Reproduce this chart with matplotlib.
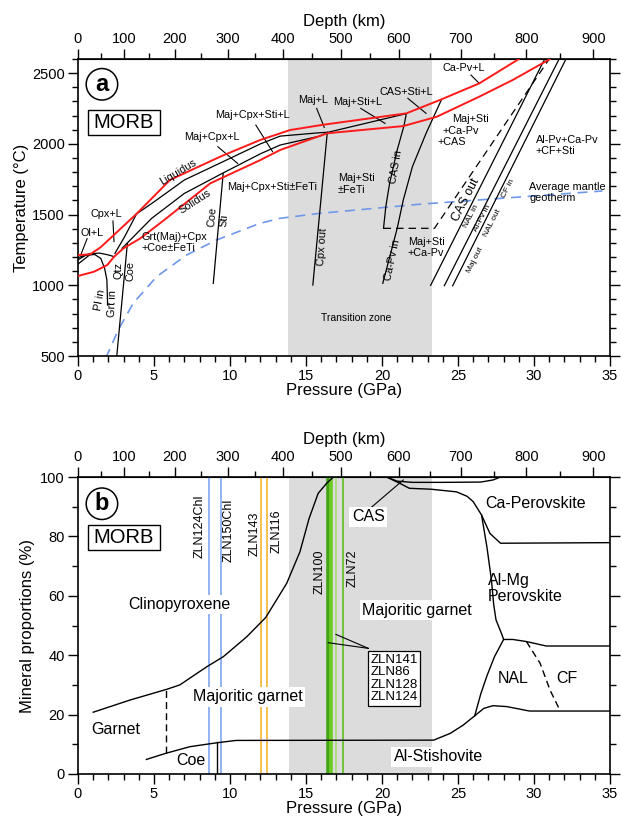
import numpy as np
import matplotlib
matplotlib.use('Agg')
import matplotlib.pyplot as plt
from matplotlib.patches import Rectangle

plt.rcParams['font.family'] = ['Liberation Sans', 'DejaVu Sans']

# escala de profundidad (km -> GPa)
depth_km = [0, 100, 200, 300, 400, 500, 600, 700, 800, 900, 1000]
depth_gpa = [0, 3.02, 6.37, 9.85, 13.5, 17.3, 21.1, 25.2, 29.5, 33.9, 38.3]

tz = (13.8, 23.3)

# ---------------- panel a: diagrama de fases ----------------
liq_p = [0, 0.8, 1.5, 2.5, 3.85, 6.05, 9.34, 11.97, 13.95, 16.1, 21.6, 23.8, 26.4, 29.0]
liq_t = [1214, 1219, 1270, 1370, 1505, 1745, 1909, 2027, 2098, 2135, 2216, 2310, 2428, 2600]
sol_p = [0, 1.05, 1.93, 2.37, 3.0, 4.1, 5.65, 8.7, 12.0, 13.3, 16.4, 21.4, 23.6, 26.4, 28.6, 31.05]
sol_t = [1066, 1096, 1144, 1202, 1262, 1332, 1460, 1721, 1886, 1957, 2075, 2126, 2192, 2334, 2452, 2600]

geo_p = [1.82, 2.65, 3.63, 5.17, 7.14, 9.1, 11.97, 13.3, 15.9, 22.45, 34.5]
geo_t = [484, 684, 873, 1061, 1214, 1320, 1438, 1474, 1509, 1573, 1667]

solid_lines = [
    ([3.85, 5, 7, 9.3, 12, 13.3, 15.9, 16.4], [1505, 1590, 1745, 1862, 2000, 2055, 2079, 2082]),
    ([2.9, 4.85, 7, 9.5, 12, 13.3, 15.9, 16.4], [1262, 1474, 1650, 1792, 1930, 1992, 2055, 2080]),
    ([16.4, 21.6, 21.45], [2081, 2214, 2130]),
    ([21.45, 21.0, 20.5, 20.25, 20.1], [2130, 1957, 1721, 1556, 1403]),
    ([23.9, 22.9, 22.0, 21.4, 21.0, 20.05], [2310, 2075, 1839, 1603, 1403, 1014]),
    ([23.2, 30.7], [1000, 2600]),
    ([24.1, 31.65], [997, 2600]),
    ([24.65, 32.1], [997, 2600]),
    ([16.4, 15.45], [2080, 1002]),
    ([9.55, 8.9], [1790, 1014]),
    ([3.25, 2.55], [1297, 500]),
    ([2.43, 3.1, 3.85], [1226, 1350, 1505]),
    ([0, 0.5, 1.1, 1.5, 1.75, 1.9, 1.95], [1180, 1212, 1218, 1190, 1120, 1040, 860]),
    ([0, 0.8], [1150, 1218]),
    ([0, 0.7, 1.4, 2.0, 2.4], [1195, 1222, 1228, 1215, 1202]),
]
cas_out_p = [20.1, 23.45, 31.0]
cas_out_t = [1403, 1403, 2600]

leaders_a = [
    ([11.7, 12.8], [2133, 1945]),
    ([9.2, 10.5], [1980, 1862]),
    ([2.3, 2.37], [1455, 1309]),
    ([0.6, 0.18], [1330, 1214]),
    ([15.7, 16.2], [2251, 2117]),
    ([18.6, 20.2], [2251, 2145]),
    ([21.7, 22.9], [2322, 2216]),
    ([25.85, 26.4], [2487, 2428]),
]

# (texto, P, T, rotacion, tamano, ha)
fs_a = 7.8
labels_a = [
    ('Liquidus', 6.6, 1803, 31, fs_a, 'center'),
    ('Solidus', 7.7, 1591, 33, fs_a, 'center'),
    ('Maj+Cpx+Sti+L', 11.5, 2204, 0, fs_a, 'center'),
    ('Maj+Cpx+L', 8.8, 2046, 0, fs_a, 'center'),
    ('Maj+Cpx+Sti±FeTi', 12.8, 1697, 0, fs_a, 'center'),
    ('Cpx+L', 1.88, 1504, 0, fs_a, 'center'),
    ('Ol+L', 0.9, 1368, 0, fs_a, 'center'),
    ('Grt(Maj)+Cpx\n+Coe±FeTi', 4.2, 1300, 0, fs_a, 'left'),
    ('Pl in', 1.45, 896, 80, fs_a, 'center'),
    ('Grt in', 2.3, 873, 88, fs_a, 'center'),
    ('Qtz', 2.65, 1108, 90, fs_a, 'center'),
    ('Coe', 3.45, 1101, 90, fs_a, 'center'),
    ('Coe', 8.85, 1485, 85, fs_a, 'center'),
    ('Sti', 9.6, 1462, 85, fs_a, 'center'),
    ('Maj+L', 15.45, 2310, 0, fs_a, 'center'),
    ('Maj+Sti+L', 18.4, 2298, 0, fs_a, 'center'),
    ('CAS+Sti+L', 21.6, 2369, 0, fs_a, 'center'),
    ('Ca-Pv+L', 25.4, 2534, 0, fs_a, 'center'),
    ('Maj+Sti', 24.6, 2176, 0, fs_a, 'left'),
    ('+Ca-Pv', 24.0, 2093, 0, fs_a, 'left'),
    ('+CAS', 23.65, 2011, 0, fs_a, 'left'),
    ('Al-Pv+Ca-Pv\n+CF+Sti', 30.1, 1990, 0, fs_a, 'left'),
    ('Average mantle\ngeotherm', 29.7, 1655, 0, fs_a, 'left'),
    ('CAS in', 20.9, 1839, 80, fs_a, 'center'),
    ('Maj+Sti\n±FeTi', 17.1, 1716, 0, fs_a, 'left'),
    ('Cpx out', 16.1, 1273, 86, fs_a, 'center'),
    ('Ca-Pv in', 20.7, 1179, 78, fs_a, 'center'),
    ('Maj+Sti\n+Ca-Pv', 21.7, 1270, 0, fs_a, 'left'),
    ('Transition zone', 18.3, 767, 0, 7.5, 'center'),
    ('CAS out', 25.55, 1603, 63, 9, 'center'),
    ('NAL in', 25.85, 1485, 63, 6, 'center'),
    ('Al-Pv in', 26.6, 1474, 63, 6, 'center'),
    ('NAL out', 27.3, 1438, 63, 6, 'center'),
    ('Maj out', 26.1, 1179, 63, 6, 'center'),
    ('CF in', 28.3, 1686, 63, 6, 'center'),
]

# ---------------- panel b: proporciones minerales ----------------
cpx_p = [1.0, 3.42, 5.83, 6.7, 8.47, 9.56, 11.1, 12.35, 13.73, 14.6, 15.2, 15.8, 16.36, 16.8]
cpx_y = [20.8, 24.9, 28.5, 30.0, 36.1, 39.5, 46.2, 52.7, 64.2, 74.8, 86, 94.5, 97.9, 100]
stv_p = [4.5, 5.8, 7.37, 9.12, 10.4, 23.4, 24.5, 25.35, 26.1, 26.7, 27.3, 28.2, 29.7, 35]
stv_y = [4.9, 7.0, 9.2, 10.5, 11.3, 11.4, 13.7, 16.5, 19.6, 22.1, 23.0, 22.7, 21.2, 21.2]
nal_p = [26.1, 26.5, 26.9, 27.4, 28.0, 28.6, 29.5, 30.8, 35]
nal_y = [19.6, 27.0, 33.0, 39.5, 45.3, 45.3, 44.6, 43.1, 43.1]
cf_p = [29.5, 30.4, 31.05, 31.7]
cf_y = [44.6, 37.3, 28.3, 21.5]
cas_p = [20.3, 21.0, 22.0, 24.0, 26.5, 27.3, 27.8]
cas_y = [100, 98.6, 98.2, 98.2, 98.3, 99.0, 100]
capv_p = [20.3, 21.2, 21.8, 23.2, 24.9, 25.6, 26.0, 26.55, 26.9, 27.2, 27.35, 27.5, 27.9, 28.0]
capv_y = [100, 97.8, 96.2, 95.9, 95.0, 93.5, 91.7, 87.2, 76.5, 65.3, 57, 51.9, 46.8, 45.3]
capv2_p = [26.55, 27.1, 27.8, 35]
capv2_y = [87.2, 81.0, 77.7, 77.9]
grt_p = [5.8, 5.8]
grt_y = [7.0, 28.5]
coe_p = [9.17, 9.17]
coe_y = [0, 10.7]

samples_blue = [8.62, 9.41]
samples_orange = [12.06, 12.46]
samples_green = [(16.45, '#43a516', 2.6), (16.65, '#6ccc22', 2.6),
                 (16.95, '#a3dc77', 1.2), (17.45, '#5fbf1e', 1.2)]
sample_labels = [('ZLN124Chl', 8.03, 83.3), ('ZLN150Chl', 9.9, 82),
                 ('ZLN143', 11.6, 81), ('ZLN116', 13.05, 81.6),
                 ('ZLN100', 15.9, 68), ('ZLN72', 18.05, 69.2)]

regions_b = [
    ('Ca-Perovskite', 30.1, 91.1, False),
    ('NAL', 28.6, 32.2, False),
    ('CF', 32.15, 32.2, False),
    ('Garnet', 2.5, 15.0, False),
    ('Coe', 7.43, 4.4, False),
    ('Clinopyroxene', 6.65, 57.1, True),
    ('Majoritic garnet', 11.15, 26.0, True),
    ('Majoritic garnet', 22.3, 55.2, True),
    ('Al-Stishovite', 23.7, 5.8, True),
    ('CAS', 19.1, 86.6, True),
]


def p2d(p):
    return np.interp(p, depth_gpa, depth_km)


def d2p(d):
    return np.interp(d, depth_km, depth_gpa)


def ejes(ax):
    ax.set_xlim(0, 35)
    ax.set_xticks(np.arange(0, 36, 5))
    ax.set_xticks(np.arange(0, 36, 1), minor=True)
    ax.tick_params(which='both', direction='out', labelsize=10.5, right=True, width=1)
    ax.tick_params(which='major', length=7, pad=2.5)
    ax.tick_params(which='minor', length=4)
    ax.set_xlabel('Pressure (GPa)', fontsize=12, labelpad=0)
    for s in ax.spines.values():
        s.set_linewidth(1.2)
    sec = ax.secondary_xaxis('top', functions=(p2d, d2p))
    sec.set_xticks(np.arange(0, 901, 100))
    sec.set_xticks(np.arange(50, 901, 100), minor=True)
    sec.tick_params(which='both', direction='out', labelsize=10.5, width=1)
    sec.tick_params(which='major', length=7, pad=2.5)
    sec.tick_params(which='minor', length=4)
    sec.set_xlabel('Depth (km)', fontsize=12, labelpad=4)


def etiquetas(ax, letra, ycirc, ybox):
    ax.text(0.045, ycirc, letra, transform=ax.transAxes, fontsize=17, fontweight='bold',
            ha='center', va='center',
            bbox=dict(boxstyle='circle,pad=0.18', fc='white', ec='black', lw=1.1))
    ax.add_patch(Rectangle((0.0188, ybox), 0.135, 0.084, transform=ax.transAxes,
                           fc='white', ec='black', lw=1, zorder=5))
    ax.text(0.0865, ybox + 0.042, 'MORB', transform=ax.transAxes, fontsize=14.5,
            ha='center', va='center', zorder=6)


fig = plt.figure(figsize=(6.21, 8.27), dpi=100)

# ---- a ----
ax = fig.add_axes([0.1256, 0.5695, 0.8567, 0.3591])
ax.axvspan(tz[0], tz[1], color='#dcdcdc', lw=0, zorder=0)
ax.plot(geo_p, geo_t, color='#6f98ea', lw=1.2, dashes=(6, 4), zorder=2)
for xs, ys in solid_lines:
    ax.plot(xs, ys, 'k-', lw=0.9, zorder=3)
ax.plot(cas_out_p, cas_out_t, 'k-', lw=0.9, dashes=(6, 4), zorder=3)
ax.plot(liq_p, liq_t, color='#ff1a1a', lw=1.4, zorder=4)
ax.plot(sol_p, sol_t, color='#ff1a1a', lw=1.4, zorder=4)
for xs, ys in leaders_a:
    ax.plot(xs, ys, 'k-', lw=0.8, zorder=3)
for txt, x, y, rot, fs, ha in labels_a:
    ax.text(x, y, txt, rotation=rot, fontsize=fs, ha=ha, va='center',
            rotation_mode='anchor', linespacing=1.15, zorder=5)
etiquetas(ax, 'a', 0.915, 0.744)
ax.set_ylim(500, 2600)
ax.set_yticks(np.arange(500, 2501, 500))
ax.set_yticks(np.arange(500, 2601, 100), minor=True)
ax.set_ylabel('Temperature (°C)', fontsize=12, labelpad=2)
ejes(ax)

# ---- b ----
bx = fig.add_axes([0.1256, 0.0641, 0.8567, 0.3591])
bx.axvspan(13.85, tz[1], color='#dcdcdc', lw=0, zorder=0)
for x in samples_blue:
    bx.axvline(x, color='#7fa6f2', lw=1.2, zorder=1)
for x in samples_orange:
    bx.axvline(x, color='#f6b631', lw=1.2, zorder=1)
for x, c, w in samples_green:
    bx.axvline(x, color=c, lw=w, zorder=1)
for xs, ys in [(cpx_p, cpx_y), (stv_p, stv_y), (nal_p, nal_y), (cas_p, cas_y),
               (capv_p, capv_y), (capv2_p, capv2_y), (coe_p, coe_y)]:
    bx.plot(xs, ys, 'k-', lw=1.0, zorder=2)
bx.plot(grt_p, grt_y, 'k-', lw=1.0, dashes=(5, 3), zorder=2)
bx.plot(cf_p, cf_y, 'k-', lw=1.0, dashes=(5, 3), zorder=2)
bx.plot([19.3, 21.4], [89.8, 99.0], 'k-', lw=0.8, zorder=2)
bx.plot([16.47, 19.1], [44.2, 42.3], 'k-', lw=0.8, zorder=2)
bx.plot([16.97, 19.1], [47.0, 42.3], 'k-', lw=0.8, zorder=2)
for txt, x, y in sample_labels:
    bx.text(x, y, txt, rotation=90, fontsize=9, ha='center', va='center', zorder=3)
for txt, x, y, box in regions_b:
    kw = dict(bbox=dict(boxstyle='square,pad=0.15', fc='white', ec='none')) if box else {}
    bx.text(x, y, txt, fontsize=11.5, ha='center', va='center', zorder=4, **kw)
bx.text(29.45, 62.5, 'Al-Mg\nPerovskite', fontsize=11.5, ha='center', va='center',
        multialignment='left', linespacing=1.1, zorder=4)
bx.text(20.8, 32.2, 'ZLN141\nZLN86\nZLN128\nZLN124', fontsize=9.5, ha='center',
        va='center', multialignment='left', linespacing=1.05, zorder=4,
        bbox=dict(boxstyle='square,pad=0.2', fc='white', ec='black', lw=0.9))
etiquetas(bx, 'b', 0.91, 0.754)
bx.set_ylim(0, 100)
bx.set_yticks(np.arange(0, 101, 20))
bx.set_yticks(np.arange(0, 101, 10), minor=True)
bx.set_ylabel('Mineral proportions (%)', fontsize=12, labelpad=4)
ejes(bx)

fig.savefig('out.png', dpi=100)
